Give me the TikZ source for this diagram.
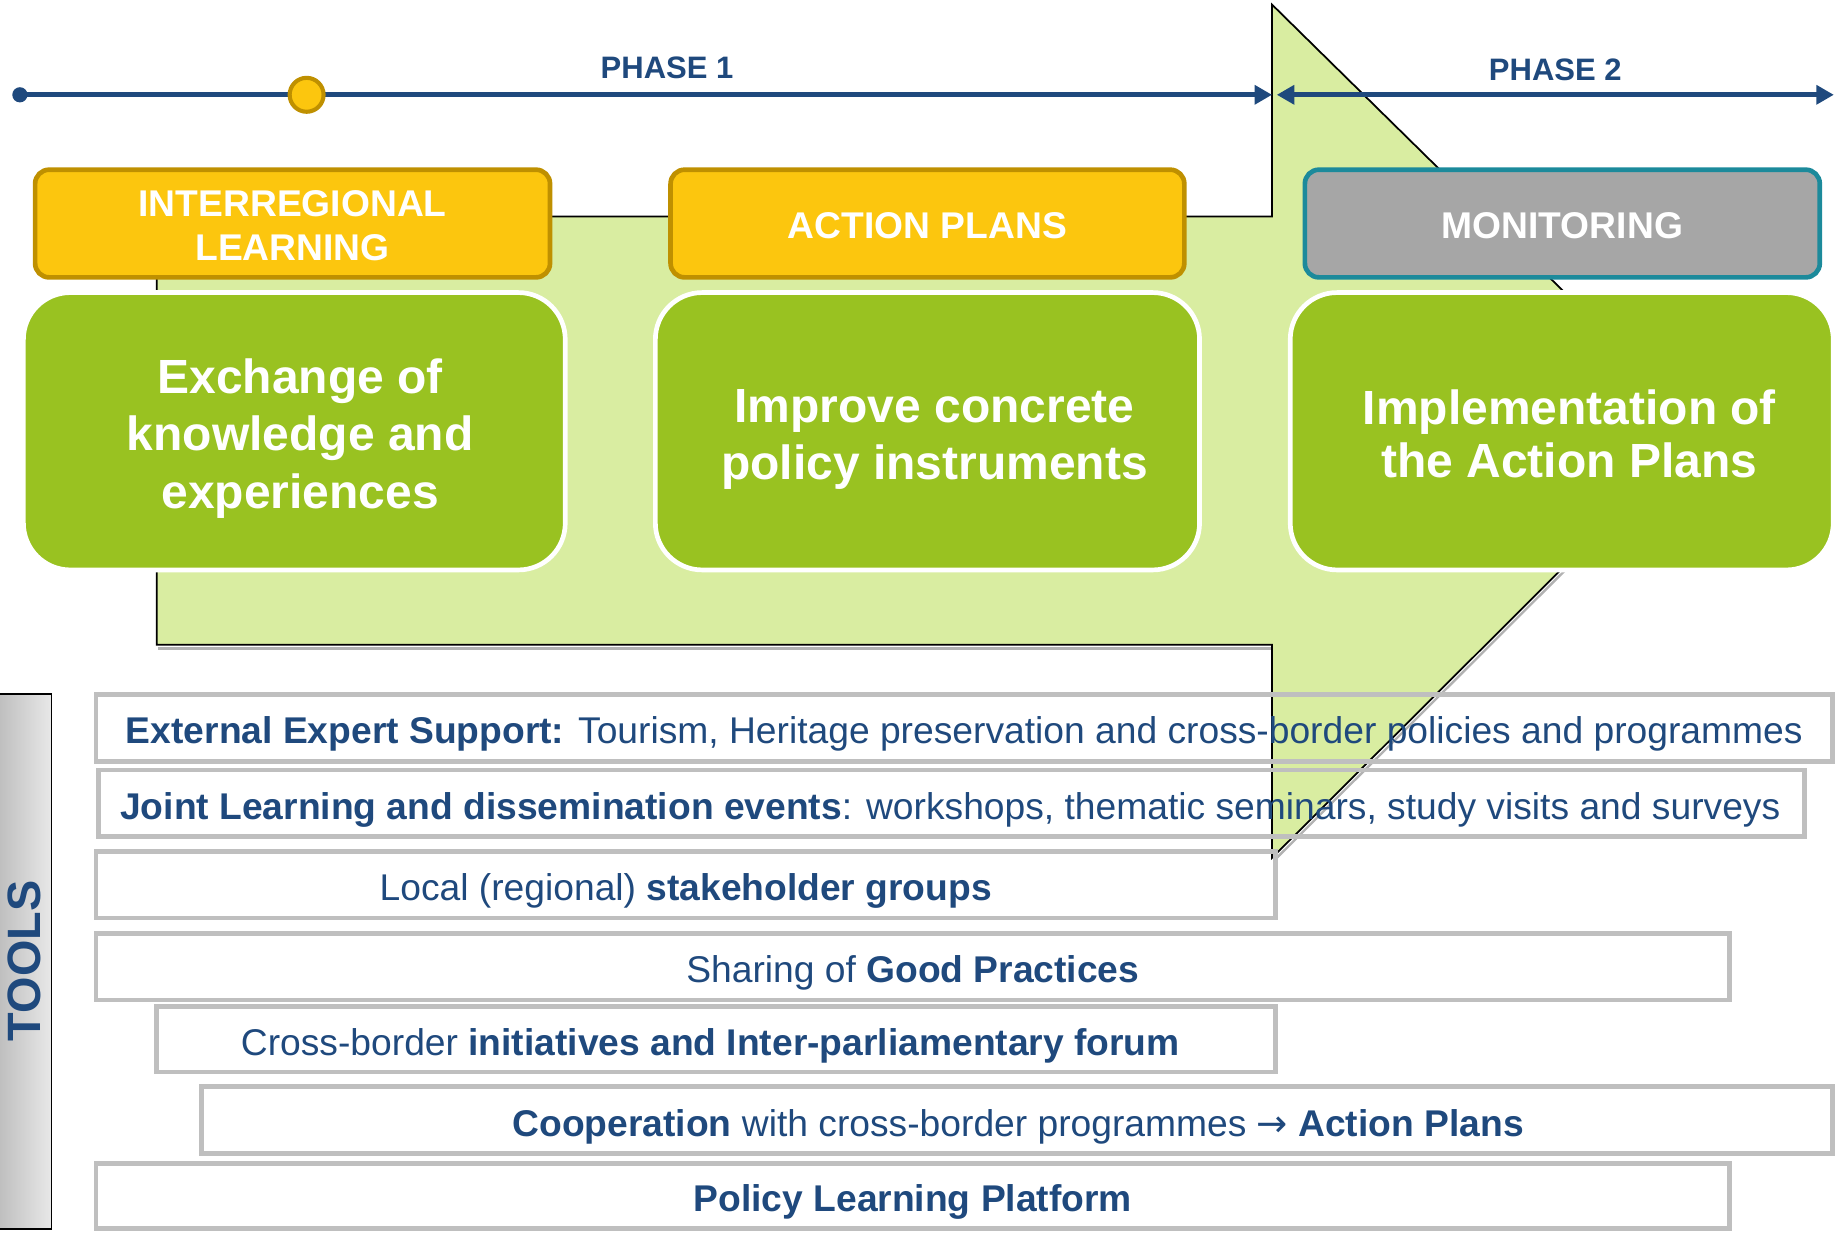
\documentclass[tikz,border=0pt]{standalone}
\usepackage{fontspec}
\setmainfont{Liberation Sans}
\newfontfamily\arrowfont{DejaVu Sans}
\usetikzlibrary{arrows.meta}
\definecolor{navy}{HTML}{1F497D}
\definecolor{gold}{HTML}{FCC60E}
\definecolor{goldb}{HTML}{BF9000}
\definecolor{leaf}{HTML}{99C221}
\definecolor{pale}{HTML}{D9EDA1}
\definecolor{monfill}{HTML}{A6A6A6}
\definecolor{teal}{HTML}{1C8A9B}
\definecolor{boxgray}{HTML}{BFBFBF}
\begin{document}
\begin{tikzpicture}[x=1pt,y=-1pt,
  >={Triangle[length=15pt,width=16pt]},
  ybox/.style={draw=goldb, fill=gold, line width=4pt, rounded corners=12pt,
    minimum width=440pt, minimum height=92pt, inner sep=0pt},
  ytext/.style={text=white, inner sep=0pt,
    font=\bfseries\fontsize{31.8}{38}\selectfont, align=center},
  gbox/.style={draw=white, fill=leaf, line width=4pt, rounded corners=40pt,
    minimum height=237pt, inner sep=0pt},
  gtext/.style={text=white, inner sep=0pt,
    font=\bfseries\fontsize{41}{49}\selectfont, align=center},
  tbox/.style={draw=boxgray, line width=4pt, minimum height=57pt, inner sep=0pt},
  ttext/.style={text=navy, inner sep=0pt, text height=27pt, text depth=0pt,
    font=\fontsize{31.8}{38}\selectfont},
  phase/.style={text=navy, font=\bfseries\fontsize{26.5}{30}\selectfont}
]
\useasboundingbox (0,0) rectangle (1568,1053);

% big background arrow
\coordinate (a1) at (134,185);
\coordinate (a2) at (1087,185);
\coordinate (a3) at (1087,4);
\coordinate (a4) at (1455,366);
\coordinate (a5) at (1087,733);
\coordinate (a6) at (1087,551);
\coordinate (a7) at (134,551);
\draw[gray!60, line width=2pt] ([shift={(1,3)}]a7) -- ([shift={(1,3)}]a6);
\draw[gray!60, line width=2pt] ([shift={(2,2)}]a4) -- ([shift={(2,2)}]a5);
\filldraw[fill=pale, draw=black, line width=1.5pt]
  (a1) -- (a2) -- (a3) -- (a4) -- (a5) -- (a6) -- (a7) -- cycle;

% timeline
\coordinate (tl0) at (17,81);
\coordinate (tl1) at (1087,81);
\coordinate (tl2) at (1091,81);
\coordinate (tl3) at (1567,81);
\draw[navy, line width=4pt, ->] (tl0) -- (tl1);
\draw[navy, line width=4pt, <->] (tl2) -- (tl3);
\fill[navy] (tl0) circle (6.5pt);
\node[circle, fill=gold, draw=goldb, line width=3.5pt, minimum size=29pt, inner sep=0pt] (mile) at (262,81) {};
\node[phase] (ph1) at (570,58) {PHASE 1};
\node[phase] (ph2) at (1329,60) {PHASE 2};

% phase header boxes
\node[ybox] (il) at (250,191) {};
\node[ytext] (ilt) at (250,193) {INTERREGIONAL\\LEARNING};
\node[ybox, minimum width=439pt] (ap) at (792.5,191) {};
\node[ytext] (apt) at (792.5,193) {ACTION PLANS};
\node[ybox, fill=monfill, draw=teal] (mo) at (1335,191) {};
\node[ytext] (mot) at (1335,193) {MONITORING};

% green content boxes
\node[gbox, minimum width=463pt] (g1) at (251.5,368.5) {};
\node[gtext] (g1t) at (256.5,374.5) {Exchange of\\knowledge and\\experiences};
\node[gbox, minimum width=465pt] (g2) at (792.5,368.5) {};
\node[gtext] (g2t) at (798.5,375.5) {Improve concrete\\policy instruments};
\node[gbox, minimum width=464pt] (g3) at (1334.5,368.5) {};
\node[gtext, font=\bfseries\fontsize{41}{45}\selectfont] (g3t) at (1341,370.5) {Implementation of\\the Action Plans};

% tools sidebar
\shade[left color=black!25, right color=black!9] (0,593) rectangle (44,1050);
\draw[black, line width=1.5pt] (0,593) -- (44,593) -- (44,1050) -- (0,1050);
\node[rotate=90, text=navy, font=\bfseries\fontsize{40}{44}\selectfont] (tools) at (21,821) {TOOLS};

% tool rows
\node[tbox, minimum width=1484pt] (r1) at (824,622) {};
\node[ttext] (r1t) at (824,622) {\textbf{External Expert Support:} Tourism, Heritage preservation and cross-border policies and programmes};
\node[tbox, minimum width=1458pt] (r2) at (813,686.5) {};
\node[ttext] (r2t) at (812,686.5) {\textbf{Joint Learning and dissemination events}: workshops, thematic seminars, study visits and surveys};
\node[tbox, minimum width=1008pt] (r3) at (586,756) {};
\node[ttext] (r3t) at (586,756) {Local (regional) \textbf{stakeholder groups}};
\node[tbox, minimum width=1396pt] (r4) at (780,826) {};
\node[ttext] (r4t) at (780,826) {Sharing of \textbf{Good Practices}};
\node[tbox, minimum width=956pt, minimum height=56pt] (r5) at (612,888) {};
\node[ttext] (r5t) at (607,888) {Cross-border \textbf{initiatives and Inter-parliamentary forum}};
\node[tbox, minimum width=1394pt] (r6) at (869,957) {};
\node[ttext] (r6t) at (870,958) {\textbf{Cooperation} with cross-border programmes {\arrowfont →} \textbf{Action Plans}};
\node[tbox, minimum width=1396pt, minimum height=56pt] (r7) at (780,1022) {};
\node[ttext] (r7t) at (780,1022) {\textbf{Policy Learning Platform}};
\end{tikzpicture}
\end{document}
